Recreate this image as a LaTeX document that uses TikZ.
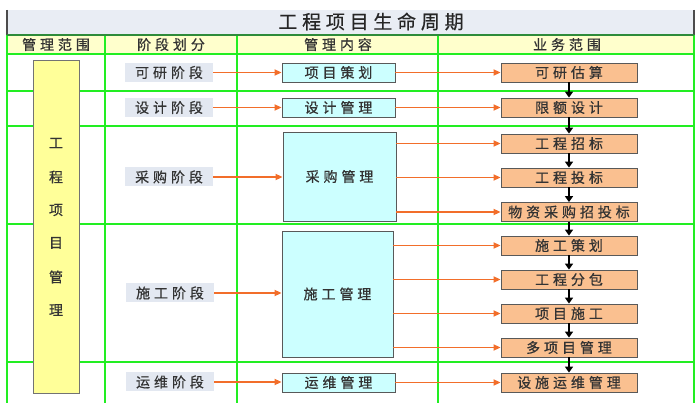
\documentclass[tikz,border=0pt]{standalone}
\usepackage{fontspec}
\newfontfamily\cjk[LetterSpace=28,FakeBold=0.6]{Noto Sans CJK SC}
\newfontfamily\cjktitle[LetterSpace=25,FakeBold=0.4]{Noto Sans CJK SC}
\usetikzlibrary{arrows.meta}
\definecolor{gridgreen}{HTML}{22EE22}
\definecolor{darkgreen}{HTML}{2E8B3A}
\definecolor{titlebg}{HTML}{E9EDF4}
\definecolor{headbg}{HTML}{FFFFCC}
\definecolor{scopebg}{HTML}{FFFF99}
\definecolor{stagebg}{HTML}{E3E8F1}
\definecolor{mgmtbg}{HTML}{CCFFFF}
\definecolor{bizbg}{HTML}{FAC090}
\definecolor{orangeline}{HTML}{F26E2A}
\tikzset{
  txt/.style={font=\cjk\fontsize{14}{16}\selectfont, text=black!80, inner sep=0pt},
  stagebox/.style={txt, fill=stagebg, minimum width=88pt, minimum height=19pt},
  mgmtbox/.style={txt, fill=mgmtbg, draw=black!65, line width=0.8pt, minimum width=113pt},
  bizbox/.style={txt, fill=bizbg, draw=black!65, line width=0.8pt, minimum width=136pt, minimum height=19pt},
  oarrow/.style={draw=orangeline, line width=1.6pt, -{Triangle[length=7pt,width=6pt]}},
  barrow/.style={draw=black, line width=2.2pt, -{Triangle[length=6pt,width=8pt]}},
  gline/.style={draw=gridgreen, line width=1.4pt},
}
\begin{document}
\begin{tikzpicture}[x=1pt,y=-1pt]
\useasboundingbox (0,0) rectangle (697,403);
% title and header
\fill[titlebg] (7,10) rectangle (694,35);
\draw[black!70, line width=1.2pt] (7,10) -- (7,35) (694,10) -- (694,35);
\node[font=\cjktitle\fontsize{19}{21}\selectfont, text=black!85, inner sep=0pt] (title) at (371,21.5) {工程项目生命周期};
\fill[headbg] (7,35) rectangle (694,54);
% grid
\foreach \x in {7,105,237,438,694} \draw[gline] (\x,35) -- (\x,403);
\foreach \y in {54,91,126,224,362} \draw[gline] (7,\y) -- (694,\y);
\draw[darkgreen, line width=2pt] (7,35) -- (694,35);
% headers
\node[txt] (h1) at (56,44.5) {管理范围};
\node[txt] (h2) at (171,44.5) {阶段划分};
\node[txt] (h3) at (338,44.5) {管理内容};
\node[txt] (h4) at (567,44.5) {业务范围};
% scope box
\node[fill=scopebg, draw=black!55, line width=0.8pt, minimum width=46pt, minimum height=333pt, inner sep=0pt] (scope) at (56,226.5) {};
\foreach \c/\yy in {工/143,程/177,项/210,目/243,管/277,理/310}
  \node[txt] at (56,\yy) {\c};
% stages
\node[stagebox] (s1) at (169,72.5) {可研阶段};
\node[stagebox] (s2) at (169,107.5) {设计阶段};
\node[stagebox] (s3) at (169,177) {采购阶段};
\node[stagebox] (s4) at (170,293) {施工阶段};
\node[stagebox] (s5) at (170,382) {运维阶段};
% management
\node[mgmtbox, minimum height=19pt] (m1) at (338.5,72.5) {项目策划};
\node[mgmtbox, minimum height=19pt] (m2) at (338.5,107.5) {设计管理};
\node[mgmtbox, minimum height=89pt] (m3) at (339.5,176.5) {采购管理};
\node[mgmtbox, minimum height=126pt, minimum width=111pt] (m4) at (337.5,294) {施工管理};
\node[mgmtbox, minimum height=19pt] (m5) at (338.5,382.5) {运维管理};
% business
\node[bizbox] (b1) at (569,72.5) {可研估算};
\node[bizbox] (b2) at (569,107.5) {限额设计};
\node[bizbox] (b3) at (569,143.5) {工程招标};
\node[bizbox] (b4) at (569,177.5) {工程投标};
\node[bizbox] (b5) at (569,212) {物资采购招投标};
\node[bizbox] (b6) at (569,245.5) {施工策划};
\node[bizbox] (b7) at (569,279.5) {工程分包};
\node[bizbox] (b8) at (569,313.5) {项目施工};
\node[bizbox] (b9) at (569,347.5) {多项目管理};
\node[bizbox] (b10) at (569,382.5) {设施运维管理};
% stage -> management
\foreach \i in {1,...,5} \draw[oarrow] (s\i.east) -- (s\i.east -| m\i.west);
% management -> business
\draw[oarrow] (m1.east) -- (b1.west);
\draw[oarrow] (m2.east) -- (b2.west);
\foreach \j in {3,4,5} \draw[oarrow] (m3.east |- b\j.west) -- (b\j.west);
\foreach \j in {6,7,8,9} \draw[oarrow] (m4.east |- b\j.west) -- (b\j.west);
\draw[oarrow] (m5.east) -- (b10.west);
% business chain
\foreach \a/\b in {1/2,2/3,3/4,4/5,5/6,6/7,7/8,8/9,9/10}
  \draw[barrow] (b\a.south) -- (b\b.north);
\end{tikzpicture}
\end{document}
